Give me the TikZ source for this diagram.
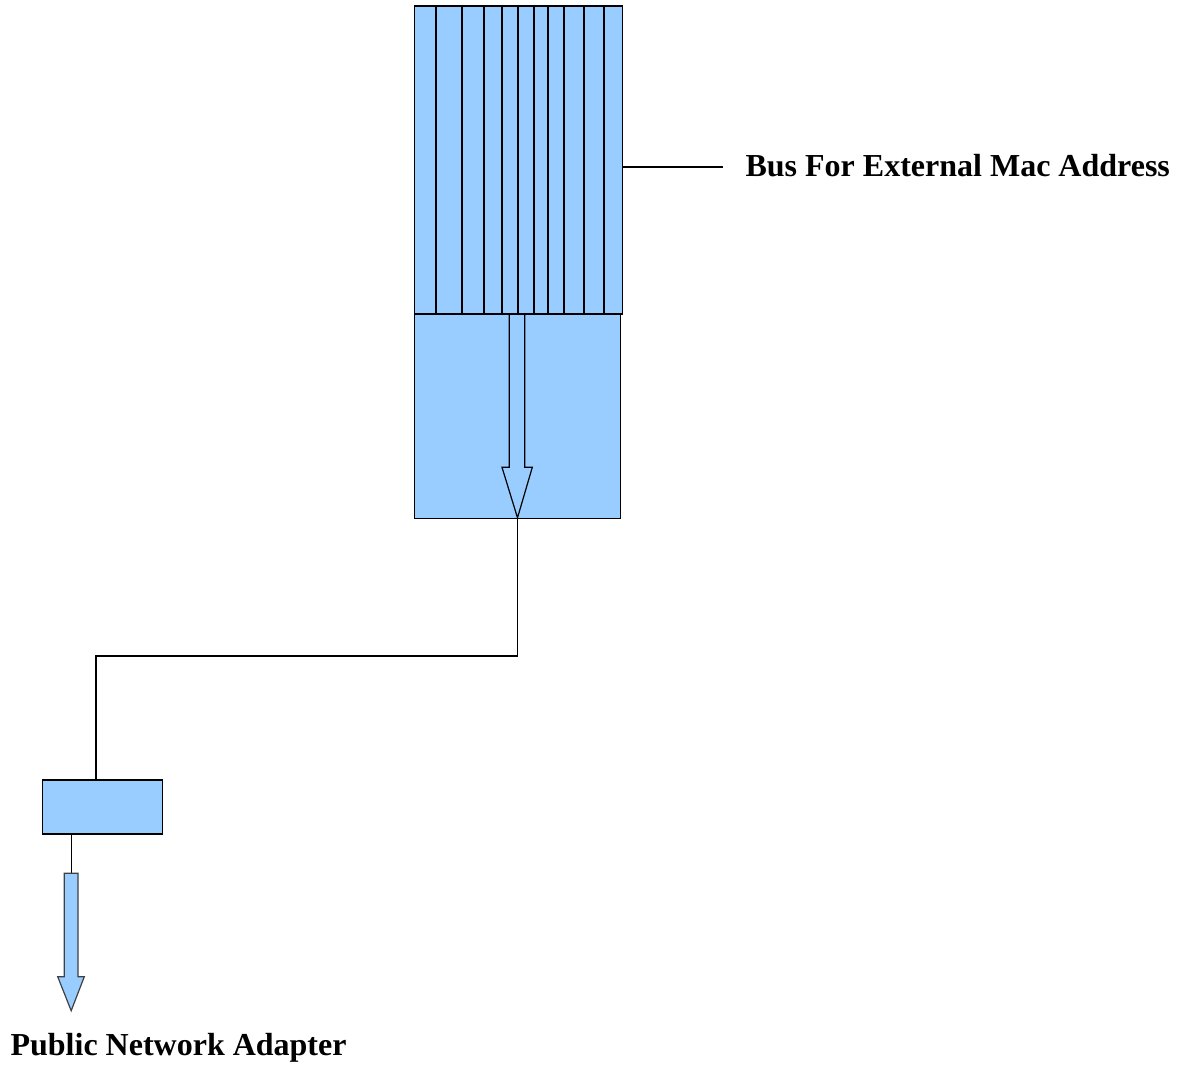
\documentclass[tikz,border=0pt]{standalone}
\usepackage{fontspec}
\setmainfont{Liberation Serif}
\usepackage{tikz}

\definecolor{busblue}{HTML}{99CCFF}

\begin{document}
\begin{tikzpicture}[x=0.5pt, y=-0.5pt, line width=0.6pt,
    block/.style={draw, rectangle, fill=busblue, inner sep=0pt},
    blockarrow/.style={draw, fill=busblue, line join=miter},
    caption/.style={anchor=base west, inner sep=0pt, font=\fontsize{16}{19}\selectfont\bfseries}]
    \useasboundingbox (0,0) rectangle (1183,1066);

    % Box below the bus, with the arrow inside
    \node[block, minimum width=102.9pt, minimum height=102.2pt] (collector) at (517.2,416.2) {};
    \draw[blockarrow] (509.3,314) -- (509.3,467.3) -- (502,467.3) -- (517.5,517.8)
        -- (532.3,467.3) -- (524.7,467.3) -- (524.7,314);

    % Bus with its lanes
    \node[block, minimum width=104pt, minimum height=154pt] (bus) at (518.3,160) {};
    \foreach \x in {436,462,484,502,518,534,548,564,584,604}
        \draw (\x,6) -- (\x,314);
    \node[caption] (buslabel) at (745,176) {Bus For External Mac Address};
    \draw (bus.east |- 0,167) -- (722.7,167);

    % Adapter box
    \node[block, minimum width=60.2pt, minimum height=27pt] (adapter) at (102.5,807) {};
    \coordinate (bend) at (96,656);
    \draw (collector.south) |- (bend) -- (bend |- adapter.north);

    % Outgoing arrow
    \coordinate (out) at (71.7,873.3);
    \draw (adapter.south -| out) -- (out);
    \draw[blockarrow, draw=black!75] (64.3,873.3) -- (64.3,976.7) -- (57.7,976.7) -- (71.2,1010.7)
        -- (84.3,976.7) -- (78,976.7) -- (78,873.3) -- cycle;
    \node[caption] (adapterlabel) at (10,1055) {Public Network Adapter};
\end{tikzpicture}
\end{document}
